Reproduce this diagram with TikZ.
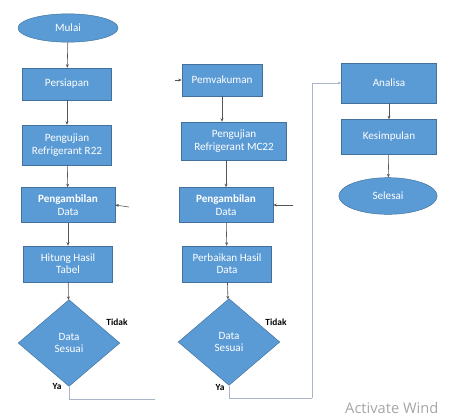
\documentclass[tikz,border=0pt]{standalone}
\usepackage{fontspec}
\setmainfont{Carlito}
\setsansfont{Open Sans}
\usetikzlibrary{shapes.geometric}
\usetikzlibrary{arrows.meta}
\definecolor{boxblue}{HTML}{5B9BD5}
\definecolor{boxedge}{HTML}{41719C}
\definecolor{linegray}{HTML}{555555}
\definecolor{railgray}{HTML}{A9B4C8}
\begin{document}
\begin{tikzpicture}
[x=0.03cm,y=-0.03cm,
procnode/.style={rectangle,draw=boxedge,fill=boxblue,text=white,align=center,
inner sep=1pt,font=\fontsize{9.5}{10.5}\selectfont},
termnode/.style={ellipse,draw=boxedge,fill=boxblue,text=white,inner sep=1pt,
font=\fontsize{9.5}{10.5}\selectfont},
decnode/.style={diamond,draw=boxedge,fill=boxblue,text=white,align=center,
inner sep=1pt,minimum width=3.05cm,minimum height=2.6cm,
font=\fontsize{9.5}{10.5}\selectfont},
answer/.style={font=\fontsize{8}{9}\selectfont\bfseries,inner sep=1pt},
flow/.style={draw=linegray,line width=0.5pt,-{Stealth[length=3pt,width=2.5pt]}},
rail/.style={draw=railgray,line width=0.7pt}
]
\useasboundingbox (0,0) rectangle (454,417);
% kolom pertama
\node [termnode,minimum width=3cm,minimum height=0.85cm] (mulai) at (68,28) {Mulai};
\node [procnode,minimum width=2.67cm,minimum height=0.96cm] (siap) at (67,84) {Persiapan};
\node [procnode,minimum width=2.67cm,minimum height=1.2cm] (uji1) at (67,145) {Pengujian\\Refrigerant R22};
\node [procnode,minimum width=2.82cm,minimum height=1.05cm] (ambil1) at (68,205) {\textbf{Pengambilan}\\Data};
\node [procnode,minimum width=2.67cm,minimum height=1.08cm] (hasil1) at (68,264) {Hitung Hasil\\Tabel};
\node [decnode] (sesuai1) at (69,343) {Data\\Sesuai};
\node [answer] at (117,322) {Tidak};
\node [answer] at (57,386) {Ya};
\coordinate (balik1) at (129,207);
\coordinate (ujung1) at (155,399);
\draw [flow] (mulai) -- (siap);
\draw [flow] (siap) -- (uji1);
\draw [flow] (uji1) -- (ambil1);
\draw [flow] (ambil1) -- (hasil1);
\draw [flow] (hasil1) -- (sesuai1);
\draw [flow] (balik1) -- (ambil1.east);
\draw [rail] (sesuai1.south) |- (ujung1);
% kolom kedua
\node [procnode,minimum width=2.4cm,minimum height=0.95cm] (vakum) at (222,80) {Pemvakuman};
\node [procnode,minimum width=3.15cm,minimum height=1.14cm] (uji2) at (234,141) {Pengujian\\Refrigerant MC22};
\node [procnode,minimum width=2.82cm,minimum height=1.05cm] (ambil2) at (226,205) {\textbf{Pengambilan}\\Data};
\node [procnode,minimum width=2.67cm,minimum height=1.08cm] (hasil2) at (227,264) {Perbaikan Hasil\\Data};
\node [decnode] (sesuai2) at (229,342) {Data\\Sesuai};
\node [answer] at (276,322) {Tidak};
\node [answer] at (220,387) {Ya};
\coordinate (masuk2) at (175,80);
\coordinate (balik2) at (293,205);
\coordinate (rel) at (312,398);
\draw [flow] (masuk2) -- (vakum.west);
\draw [flow] (vakum) -- (uji2.north -| vakum);
\draw [flow] (uji2.south -| ambil2) -- (ambil2);
\draw [flow] (ambil2) -- (hasil2);
\draw [flow] (hasil2) -- (sesuai2);
\draw [flow] (balik2) -- (ambil2.east);
% kolom ketiga
\node [procnode,minimum width=2.85cm,minimum height=1.2cm] (analisa) at (389,83) {Analisa};
\node [procnode,minimum width=2.85cm,minimum height=1.05cm] (simpul) at (389,137) {Kesimpulan};
\node [termnode,minimum width=2.95cm,minimum height=1.1cm] (selesai) at (388,196) {Selesai};
\draw [rail] (sesuai2.south) |- (rel);
\draw [flow,draw=railgray] (rel) |- (analisa.west);
\draw [flow] (analisa) -- (simpul);
\draw [flow] (simpul) -- (selesai);
% tanda air
\node [anchor=west,text=black!35,font=\sffamily\fontsize{12.5}{13}\selectfont,inner sep=0pt] (tanda) at (345,408) {Activate Wind};
\end{tikzpicture}
\end{document}
